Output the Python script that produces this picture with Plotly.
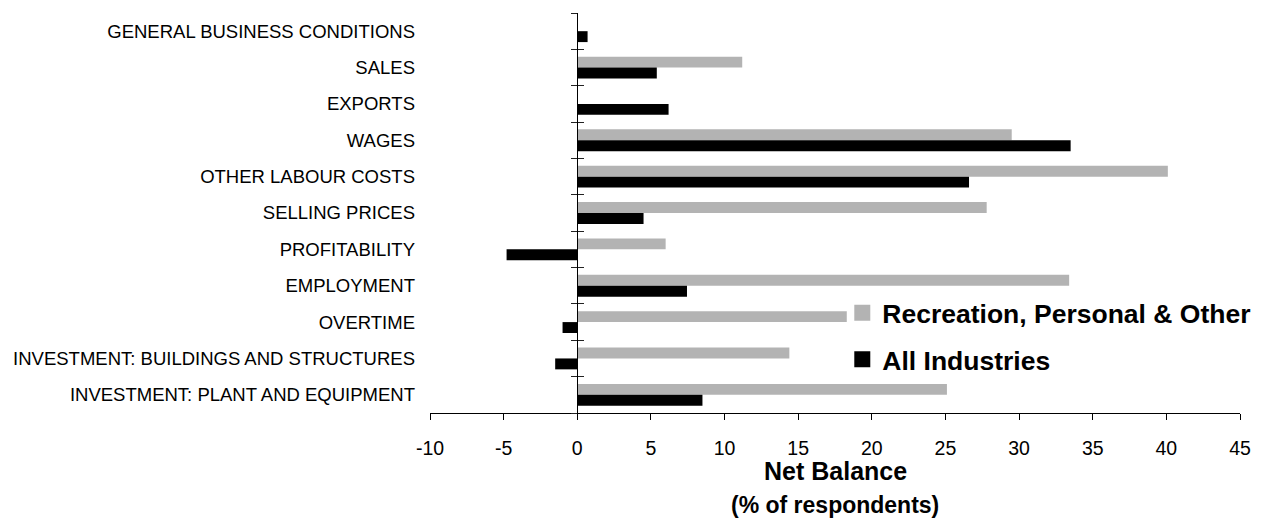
import plotly.graph_objects as go

# Survey categories, listed top to bottom
categories = [
    "GENERAL BUSINESS CONDITIONS",
    "SALES",
    "EXPORTS",
    "WAGES",
    "OTHER LABOUR COSTS",
    "SELLING PRICES",
    "PROFITABILITY",
    "EMPLOYMENT",
    "OVERTIME",
    "INVESTMENT: BUILDINGS AND STRUCTURES",
    "INVESTMENT: PLANT AND EQUIPMENT",
]

# Net balance (% of respondents)
recreation = [None, 11.2, None, 29.5, 40.1, 27.8, 6.0, 33.4, 18.3, 14.4, 25.1]
all_industries = [0.7, 5.4, 6.2, 33.5, 26.6, 4.5, -4.8, 7.45, -1.0, -1.5, 8.5]

x_ticks = list(range(-10, 50, 5))
x_tick_text = [str(v) for v in x_ticks]
x_min, x_max = -10, 45

FONT = "Liberation Sans, Arial, sans-serif"
GREY = "#b3b3b3"
BLACK = "#000000"

fig = go.Figure()

fig.add_trace(go.Bar(
    y=categories, x=recreation, orientation="h",
    name="Recreation, Personal & Other",
    marker=dict(color=GREY, line=dict(width=0)),
    showlegend=False,
))
fig.add_trace(go.Bar(
    y=categories, x=all_industries, orientation="h",
    name="All Industries",
    marker=dict(color=BLACK, line=dict(width=0)),
    showlegend=False,
))

# Legend entries with larger square swatches
for name, color, grp in [("Recreation, Personal & Other", GREY, "a"),
                         ("All Industries", BLACK, "b")]:
    fig.add_trace(go.Scatter(
        x=[None], y=[None], mode="markers", name=name,
        legendgroup=grp,
        marker=dict(symbol="square", size=16, color=color),
        hoverinfo="skip",
    ))

# Category boundary ticks on the vertical axis through zero
boundaries = [i - 0.5 for i in range(len(categories) + 1)]
for ax in ("y2", "y3"):
    fig.add_trace(go.Scatter(
        x=[None], y=[None], xaxis="x", yaxis=ax,
        showlegend=False, hoverinfo="skip",
    ))

zero_pos = (0 - x_min) / (x_max - x_min)
divider_axis = dict(
    overlaying="y", anchor="free", position=zero_pos,
    type="linear", range=[len(categories) - 0.5, -0.5],
    tickmode="array", tickvals=boundaries, ticklen=6,
    tickcolor="#222222", tickwidth=1,
    showticklabels=False, showgrid=False, zeroline=False,
    showline=True, linecolor=BLACK, linewidth=1,
)

fig.update_layout(
    width=1261, height=518,
    margin=dict(l=430, r=21, t=13, b=105, autoexpand=False),
    paper_bgcolor="white", plot_bgcolor="white",
    barmode="group", bargap=0.4, bargroupgap=0,
    font=dict(family=FONT, color="black"),
    xaxis=dict(
        range=[x_min, x_max], tickmode="array",
        tickvals=x_ticks, ticktext=x_tick_text,
        ticks="outside", ticklen=6, tickcolor=BLACK,
        showline=True, linecolor=BLACK, linewidth=1,
        showgrid=False, zeroline=False, ticklabelstandoff=12,
        tickfont=dict(size=19.5, family=FONT, color="black"),
    ),
    yaxis=dict(
        type="category", categoryorder="array", categoryarray=categories,
        autorange="reversed", ticks="", showline=False, showgrid=False,
        zeroline=False, ticklabelstandoff=14,
        tickfont=dict(size=18.5, family=FONT, color="black"),
    ),
    yaxis2=dict(divider_axis, ticks="outside"),
    yaxis3=dict(divider_axis, ticks="inside"),
    legend=dict(
        x=0.509, y=0.31, xanchor="left", yanchor="top",
        traceorder="grouped", tracegroupgap=9,
        font=dict(size=26.5, family=FONT, color="black", weight="bold"),
        bgcolor="rgba(0,0,0,0)",
    ),
    showlegend=True,
    annotations=[
        dict(text="<b>Net Balance</b>", xref="x domain", yref="paper",
             x=0.5, y=-0.145, xanchor="center", yanchor="middle",
             showarrow=False, font=dict(size=25, family=FONT, color="black")),
        dict(text="<b>(% of respondents)</b>", xref="x domain", yref="paper",
             x=0.5, y=-0.23, xanchor="center", yanchor="middle",
             showarrow=False, font=dict(size=23, family=FONT, color="black")),
    ],
)

fig.write_html("out.html")
